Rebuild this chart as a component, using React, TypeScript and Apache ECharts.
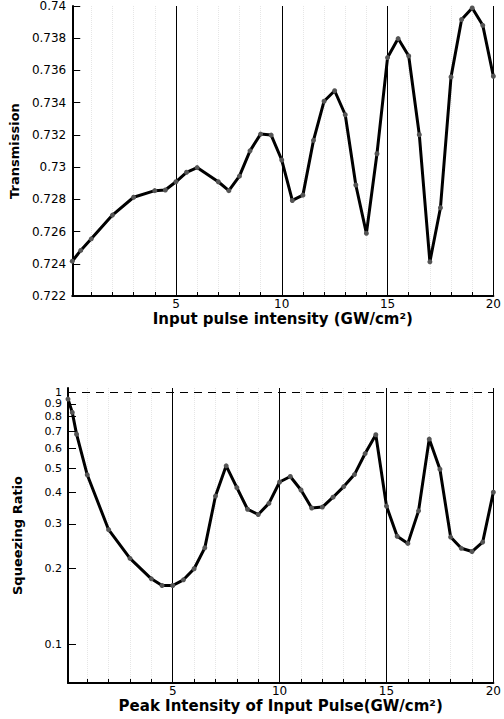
import React, { useEffect, useRef } from "react";
import * as echarts from "echarts";

const xTop = [0.1, 0.5, 1, 2, 3, 4, 4.5, 5, 5.5, 6, 7, 7.5, 8, 8.5, 9, 9.5, 10, 10.5, 11, 11.5, 12, 12.5, 13, 13.5, 14, 14.5, 15, 15.5, 16, 16.5, 17, 17.5, 18, 18.5, 19, 19.5, 20];
const transmission = [0.72416, 0.72483, 0.72555, 0.72702, 0.72813, 0.72854, 0.72858, 0.72909, 0.72968, 0.72997, 0.72909, 0.72854, 0.72944, 0.73101, 0.73205, 0.73199, 0.73044, 0.72793, 0.72826, 0.73166, 0.73409, 0.73474, 0.73325, 0.72889, 0.72589, 0.73083, 0.7368, 0.73798, 0.7369, 0.73201, 0.72412, 0.72748, 0.7356, 0.73916, 0.73988, 0.7388, 0.73564];

const xBot = [0.1, 0.3, 0.5, 1, 2, 3, 4, 4.5, 5, 5.5, 6, 6.5, 7, 7.5, 8, 8.5, 9, 9.5, 10, 10.5, 11, 11.5, 12, 12.5, 13, 13.5, 14, 14.5, 15, 15.5, 16, 16.5, 17, 17.5, 18, 18.5, 19, 19.5, 20];
const squeezing = [0.94, 0.832, 0.682, 0.47, 0.2845, 0.219, 0.1815, 0.1708, 0.1708, 0.1799, 0.199, 0.241, 0.387, 0.5105, 0.418, 0.343, 0.327, 0.362, 0.44, 0.463, 0.409, 0.347, 0.35, 0.383, 0.422, 0.471, 0.571, 0.678, 0.353, 0.268, 0.251, 0.338, 0.652, 0.495, 0.266, 0.24, 0.233, 0.254, 0.401];

const xMinorTicks = [1, 2, 3, 4, 5, 6, 7, 8, 9, 10, 11, 12, 13, 14, 15, 16, 17, 18, 19, 20];
const xLabels = [5, 10, 15, 20];
const majorLines = [5, 10, 15, 20];
const logTicks = [0.1, 0.2, 0.3, 0.4, 0.5, 0.6, 0.7, 0.8, 0.9, 1];

const topTitleX = "Input pulse intensity (GW/cm²)";
const topTitleY = "Transmission";
const botTitleX = "Peak Intensity of Input Pulse(GW/cm²)";
const botTitleY = "Squeezing Ratio";

const FONT = "DejaVu Sans";
const LOG_MIN = 0.07;
const LOG_MAX = 1.04;

function xAxisCfg(gridIndex: number, name: string) {
  return {
    type: "value",
    gridIndex,
    min: 0.1,
    max: 20,
    name,
    nameLocation: "middle",
    nameGap: 14,
    nameTextStyle: { fontFamily: FONT, fontWeight: "bold", fontSize: 15, lineHeight: 16, color: "#000" },
    axisLine: { show: true, onZero: false, lineStyle: { color: "#000", width: 2 } },
    axisTick: { show: true, inside: true, length: 4, customValues: xMinorTicks, lineStyle: { color: "#000", width: 1 } },
    axisLabel: { customValues: xLabels, fontFamily: FONT, fontSize: 12, lineHeight: 12, color: "#000", margin: 2, hideOverlap: false },
    splitLine: { show: true, lineStyle: { color: "#e6e6e6", type: "dotted", width: 1 } },
  };
}

export default function App() {
  const ref = useRef<HTMLDivElement>(null);
  useEffect(() => {
    if (!ref.current) return;
    const chart = echarts.init(ref.current, undefined, { renderer: "svg" });
    const vLines = majorLines.map((v) => ({ xAxis: v }));
    const option: any = {
      animation: false,
      backgroundColor: "#fff",
      grid: [
        { left: 68, right: 5, top: 2, height: 294 },
        { left: 68, right: 5, top: 388, bottom: 36 },
      ],
      xAxis: [xAxisCfg(0, topTitleX), xAxisCfg(1, botTitleX)],
      yAxis: [
        {
          type: "value",
          gridIndex: 0,
          min: 0.722,
          max: 0.74,
          interval: 0.002,
          name: topTitleY,
          nameLocation: "middle",
          nameRotate: 90,
          nameGap: 44,
          nameTextStyle: { fontFamily: FONT, fontWeight: "bold", fontSize: 13, color: "#000" },
          axisLine: { show: true, onZero: false, lineStyle: { color: "#000", width: 2 } },
          axisTick: { show: true, inside: true, length: 8, lineStyle: { color: "#000", width: 1 } },
          axisLabel: { fontFamily: FONT, fontSize: 12, color: "#000", margin: 6, hideOverlap: false },
          splitLine: { show: false },
        },
        {
          type: "log",
          gridIndex: 1,
          min: LOG_MIN,
          max: LOG_MAX,
          name: botTitleY,
          nameLocation: "middle",
          nameRotate: 90,
          nameGap: 44,
          nameTextStyle: { fontFamily: FONT, fontWeight: "bold", fontSize: 13, color: "#000" },
          axisLine: { show: true, onZero: false, lineStyle: { color: "#000", width: 2 } },
          axisTick: { show: true, inside: true, length: 8, customValues: logTicks, lineStyle: { color: "#000", width: 1 } },
          axisLabel: {
            customValues: [...logTicks, LOG_MAX],
            fontFamily: FONT,
            fontSize: 11,
            lineHeight: 10,
            color: "#000",
            margin: 6,
            hideOverlap: false,
            formatter: (v: number) => (v > 1.01 ? "" : String(Math.round(v * 10) / 10)),
          },
          splitLine: { show: false },
          minorTick: { show: false },
        },
      ],
      series: [
        {
          type: "line",
          xAxisIndex: 0,
          yAxisIndex: 0,
          data: xTop.map((x, i) => [x, transmission[i]]),
          lineStyle: { color: "#000", width: 3 },
          itemStyle: { color: "#555" },
          symbol: "circle",
          symbolSize: 5,
          showSymbol: true,
          z: 5,
          markLine: {
            silent: true,
            symbol: ["none", "none"],
            label: { show: false },
            lineStyle: { color: "#000", width: 1, type: "solid" },
            data: vLines,
            z: 1,
          },
        },
        {
          type: "line",
          xAxisIndex: 1,
          yAxisIndex: 1,
          data: xBot.map((x, i) => [x, squeezing[i]]),
          lineStyle: { color: "#000", width: 3 },
          itemStyle: { color: "#555" },
          symbol: "circle",
          symbolSize: 5,
          showSymbol: true,
          z: 5,
          markLine: {
            silent: true,
            symbol: ["none", "none"],
            label: { show: false },
            lineStyle: { color: "#000", width: 1, type: "solid" },
            data: [
              ...vLines,
              { yAxis: 1, lineStyle: { color: "#000", width: 1, type: [8, 6] } },
            ],
            z: 1,
          },
        },
      ],
    };
    chart.setOption(option);
    return () => chart.dispose();
  }, []);
  return (
    <div
      ref={ref}
      style={{ position: "fixed", left: 0, top: 0, width: 504, height: 719, background: "#fff" }}
    />
  );
}
